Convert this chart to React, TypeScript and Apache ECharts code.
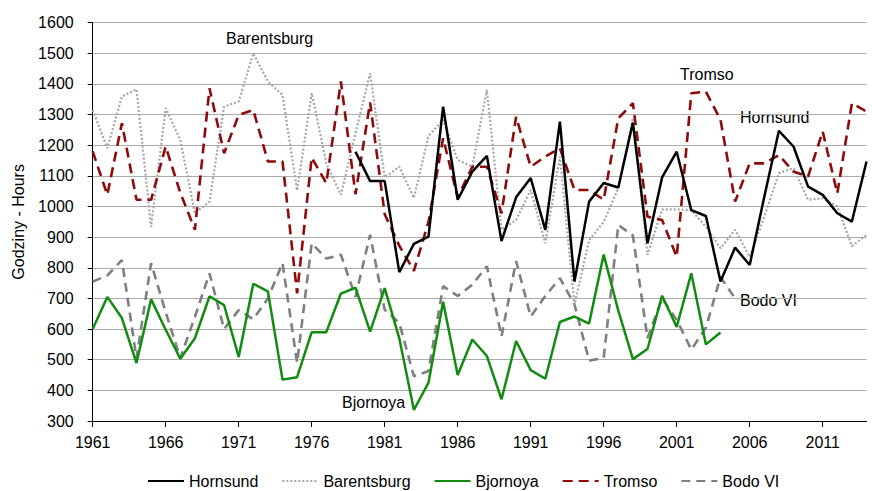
import React, { useEffect, useRef } from "react";
import * as echarts from "echarts";

const years: string[] = [];
for (let y = 1961; y <= 2014; y++) years.push(String(y));

const yTicks = { min: 300, max: 1600, interval: 100 };

const hornsund: (number | null)[] = [
  null, null, null, null, null, null, null, null, null, null,
  null, null, null, null, null, null, null, null,
  1179, 1083, 1083, 786, 878, 902, 1326, 1022, 1114, 1165,
  887, 1030, 1093, 924, 1277, 755, 1016, 1077, 1062, 1274,
  880, 1095, 1179, 988, 969, 755, 866, 809, 1032, 1247,
  1196, 1065, 1038, 978, 951, 1147,
];

const barentsburg: (number | null)[] = [
  1315, 1190, 1359, 1383, 934, 1321, 1217, 978, 1016, 1326,
  1343, 1500, 1408, 1364, 1052, 1370, 1141, 1038, 1240, 1435,
  1095, 1130, 1028, 1230, 1283, 1152, 1130, 1381, 924, 956,
  1054, 880, 1163, 680, 890, 950, 1060, 1288, 842, 991,
  991, 988, 934, 864, 924, 836, 967, 1109, 1125, 1022,
  1027, 1000, 871, 907,
];

const bjornoya: (number | null)[] = [
  600, 705, 636, 489, 697, 598, 503, 570, 707, 678,
  509, 748, 723, 435, 443, 590, 590, 716, 735, 592,
  734, 570, 336, 425, 689, 450, 566, 512, 371, 561,
  466, 438, 623, 641, 618, 843, 660, 502, 535, 709,
  607, 782, 550, 589,
  null, null, null, null, null, null, null, null, null, null,
];

const tromso: (number | null)[] = [
  1180, 1038, 1272, 1022, 1022, 1196, 1045, 924, 1386, 1174,
  1299, 1315, 1147, 1147, 717, 1160, 1076, 1408, 1040, 1340,
  975, 872, 790, 950, 1223, 1030, 1130, 1130, 978, 1293,
  1130, 1163, 1190, 1054, 1054, 1022, 1288, 1337, 967, 956,
  836, 1370, 1375, 1283, 1016, 1141, 1141, 1168, 1114, 1098,
  1245, 1043, 1337, 1310,
];

const bodo: (number | null)[] = [
  755, 775, 825, 505, 815, 655, 505, 640, 782, 600,
  662, 632, 700, 816, 490, 880, 830, 843, 705, 908,
  663, 620, 446, 463, 740, 708, 745, 805, 576, 822,
  641, 708, 766, 680, 497, 506, 940, 905, 570, 700,
  630, 533, 605, 770, 700,
  null, null, null, null, null, null, null, null, null,
];

const FONT = "'Liberation Sans', Arial, sans-serif";

export default function App() {
  const ref = useRef<HTMLDivElement>(null);
  useEffect(() => {
    if (!ref.current) return;
    const chart = echarts.init(ref.current, undefined, { renderer: "svg" });
    const mk = (name: string, data: (number | null)[], color: string, type: any, width: number, z: number) => ({
      name,
      type: "line",
      data,
      symbol: "none",
      showSymbol: false,
      connectNulls: false,
      z,
      lineStyle: { color, width, type, cap: "butt" },
      itemStyle: { color },
    });
    chart.setOption({
      animation: false,
      backgroundColor: "#ffffff",
      textStyle: { fontFamily: FONT },
      grid: { left: 92.7, right: 5.5, top: 22.7, bottom: 70, containLabel: false },
      xAxis: {
        type: "category",
        data: years,
        boundaryGap: false,
        axisLine: { lineStyle: { color: "#000", width: 1 } },
        axisTick: { show: true, interval: 4, length: 6, lineStyle: { color: "#000" } },
        axisLabel: { interval: 4, color: "#000", fontSize: 16, fontFamily: FONT, margin: 13 },
        splitLine: { show: false },
      },
      yAxis: {
        type: "value",
        min: yTicks.min,
        max: yTicks.max,
        interval: yTicks.interval,
        name: "Godziny - Hours",
        nameLocation: "middle",
        nameGap: 66,
        nameTextStyle: { color: "#000", fontSize: 16, fontFamily: FONT },
        axisLine: { show: true, lineStyle: { color: "#000", width: 1 } },
        axisTick: { show: true, length: 5, lineStyle: { color: "#000" } },
        axisLabel: { color: "#000", fontSize: 16, fontFamily: FONT, margin: 19, formatter: (v: number) => String(v) },
        splitLine: { show: true, lineStyle: { color: "#ababab", width: 1 } },
      },
      legend: {
        left: 147,
        top: 473,
        padding: 0,
        itemWidth: 36,
        itemHeight: 14,
        itemGap: 23,
        itemStyle: { opacity: 0 },
        textStyle: { color: "#000", fontSize: 16, fontFamily: FONT },
        data: ["Hornsund", "Barentsburg", "Bjornoya", "Tromso", "Bodo VI"],
      },
      graphic: [
        { type: "text", left: 226, top: 30, style: { text: "Barentsburg", fill: "#000", font: `16px ${FONT}` } },
        { type: "text", left: 680, top: 66, style: { text: "Tromso", fill: "#000", font: `16px ${FONT}` } },
        { type: "text", left: 740, top: 109, style: { text: "Hornsund", fill: "#000", font: `16px ${FONT}` } },
        { type: "text", left: 740, top: 292, style: { text: "Bodo VI", fill: "#000", font: `16px ${FONT}` } },
        { type: "text", left: 342, top: 394, style: { text: "Bjornoya", fill: "#000", font: `16px ${FONT}` } },
      ],
      series: [
        mk("Hornsund", hornsund, "#000000", "solid", 2.5, 5),
        mk("Barentsburg", barentsburg, "#a6a6a6", [2, 2], 2.2, 2),
        mk("Bjornoya", bjornoya, "#118c11", "solid", 2.5, 4),
        mk("Tromso", tromso, "#8e0b0b", [10, 6], 2.6, 3),
        mk("Bodo VI", bodo, "#7f7f7f", [9, 6], 2.6, 1),
      ],
    });
    return () => chart.dispose();
  }, []);
  return <div ref={ref} style={{ position: "absolute", left: 0, top: 0, width: 872, height: 491 }} />;
}
